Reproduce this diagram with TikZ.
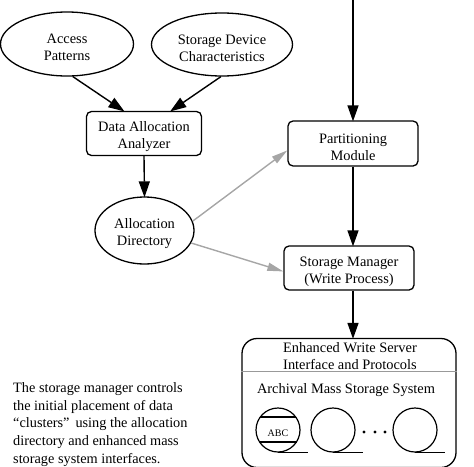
\documentclass[tikz,border=0pt]{standalone}
\usepackage{fontspec}
\setmainfont{Liberation Serif}
\usetikzlibrary{shapes.geometric,arrows.meta}
\tikzset{
  label font/.style={font=\fontsize{14.4}{17}\selectfont,align=center},
  drop text/.style={text height=34pt},
  oval/.style={draw,ellipse,line width=1.3pt,inner sep=0pt,label font,drop text},
  module/.style={draw,rectangle,rounded corners=5pt,line width=1.3pt,inner sep=0pt,label font,drop text},
  reel/.style={draw,circle,line width=1.2pt,minimum size=44pt,inner sep=0pt},
  flow/.style={-{Triangle[length=16pt,width=11pt]},line width=1.4pt,shorten >=-1pt},
  grayflow/.style={-{Triangle[length=16pt,width=8pt]},line width=1.4pt,color=black!35},
}
\begin{document}
\begin{tikzpicture}[x=1pt,y=-1pt]
\useasboundingbox (0,0) rectangle (474,466);
\node [oval,minimum width=133pt,minimum height=64pt] (access) at (67,44) {Access\\Patterns};
\node [oval,minimum width=141pt,minimum height=63pt] (device) at (222,44.5) {Storage Device\\Characteristics};
\node [module,minimum width=115pt,minimum height=44pt] (analyzer) at (144,133.5) {Data Allocation\\Analyzer};
\node [oval,minimum width=99pt,minimum height=67pt] (directory) at (144.5,230.5) {Allocation\\Directory};
\node [module,minimum width=130pt,minimum height=45pt] (partition) at (353,143.5) {Partitioning\\Module};
\node [module,minimum width=130pt,minimum height=44pt] (manager) at (349,268) {Storage Manager\\(Write Process)};
\node [draw,rectangle,rounded corners=15pt,line width=1.3pt,minimum width=214pt,minimum height=129pt,inner sep=0pt] (server) at (349,403) {};
\coordinate (feed) at (353,-2);
\draw[flow] (feed) -- (partition.north);
\draw[flow] (access.-80) -- (analyzer.132);
\draw[flow] (device.-92) -- (analyzer.40);
\draw[flow] (analyzer.south) -- (directory.north);
\draw[flow] (partition.south) -- (partition.south |- manager.north);
\draw[flow] (manager.south -| partition.south) -- (partition.south |- server.north);
\draw[grayflow] (directory.11) -- (partition.186.6);
\draw[grayflow] (directory.-15) -- (manager.183.5);
\node [label font] (protocols) at (350,356) {Enhanced Write Server\\Interface and Protocols};
\draw[line width=1pt,color=black!40] (server.west |- 0,371) -- (server.east |- 0,371);
\node [label font] (archival) at (346,390) {Archival Mass Storage System};
\foreach \name/\xc in {reelA/278,reelB/333,reelC/415} {
  \node [reel] (\name) at (\xc,430) {};
  \draw[line width=1.2pt] (\name.south) -- ++(30,0);
}
\draw[line width=1.2pt] (reelA.center) ++(-17.7,-13) -- ++(35.4,0);
\draw[line width=1.2pt] (reelA.center) ++(-18.5,12) -- ++(37,0);
\node [font=\fontsize{10}{12}\selectfont] (tape) at (278,433) {ABC};
\foreach \xc in {364,375,385} {
  \fill (\xc,432) circle (1.6pt);
}
\node [font=\fontsize{14.3}{17.6}\selectfont,align=left,anchor=north west,inner sep=0pt] (note) at (13,382.5) {The storage manager controls\\the initial placement of data\\``clusters''\, using the allocation\\directory and enhanced mass\\storage system interfaces.};
\end{tikzpicture}
\end{document}
